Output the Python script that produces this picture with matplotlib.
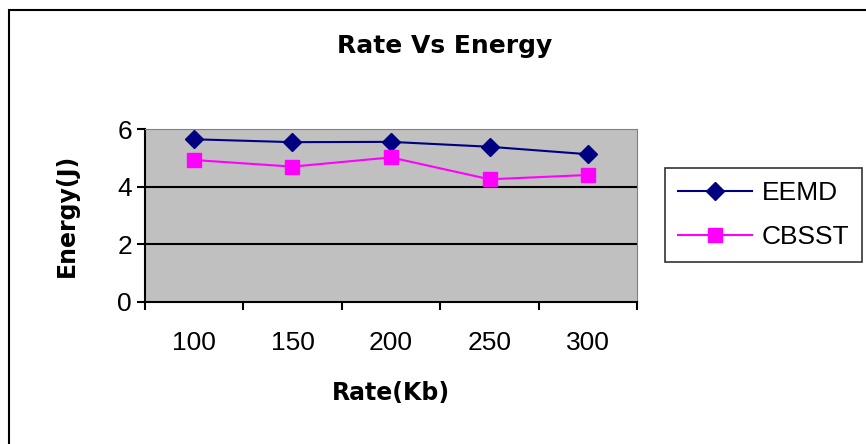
import matplotlib.pyplot as plt
from matplotlib.patches import Rectangle

plt.rcParams['font.family'] = ['Liberation Sans', 'DejaVu Sans']

rates = ['100', '150', '200', '250', '300']
eemd = [5.65, 5.55, 5.56, 5.39, 5.13]
cbsst = [4.93, 4.70, 5.02, 4.26, 4.41]

fig = plt.figure(figsize=(8.66, 4.44), dpi=100)
ax = fig.add_axes([0.167, 0.32, 0.569, 0.389])
ax.set_facecolor('#c0c0c0')

x = list(range(len(rates)))
ax.plot(x, eemd, color='#000080', marker='D', markersize=9, lw=1.5, label='EEMD')
ax.plot(x, cbsst, color='#ff00ff', marker='s', markersize=10, lw=1.5, label='CBSST')

ax.set_xlim(-0.5, len(rates) - 0.5)
ax.set_ylim(0, 6)
ax.set_yticks([0, 2, 4, 6])
for v in [2, 4]:
    ax.axhline(v, color='black', lw=1.5, zorder=1)

ax.set_xticks(x)
ax.set_xticklabels(rates)
ax.set_xticks([i - 0.5 for i in range(len(rates) + 1)], minor=True)
ax.tick_params(axis='x', which='major', length=0, labelsize=19, pad=21)
ax.tick_params(axis='x', which='minor', length=6, width=1.5, direction='out')
ax.tick_params(axis='y', length=6, width=1.5, labelsize=19, pad=3)

for s in ['top', 'right']:
    ax.spines[s].set_color('#808080')
for s in ['left', 'bottom']:
    ax.spines[s].set_linewidth(1.5)

bold = dict(family='DejaVu Sans', fontweight='bold')
ax.set_xlabel('Rate(Kb)', fontsize=17, labelpad=19, **bold)
ax.set_ylabel('Energy(J)', fontsize=17, labelpad=28, **bold)
fig.text(0.513, 0.897, 'Rate Vs Energy', ha='center', va='center', fontsize=18, **bold)

leg = fig.legend(loc='center', bbox_to_anchor=(0.882, 0.516), fontsize=19, frameon=True,
                 fancybox=False, edgecolor='black', handlelength=2.8, borderpad=0.5,
                 labelspacing=0.75, handletextpad=0.35, borderaxespad=0)
leg.get_frame().set_linewidth(1.2)

fig.patches.append(Rectangle((0.010, -0.05), 1.1, 1.027, transform=fig.transFigure,
                             fill=False, edgecolor='black', lw=1.5))

plt.savefig('out.png', dpi=100)
